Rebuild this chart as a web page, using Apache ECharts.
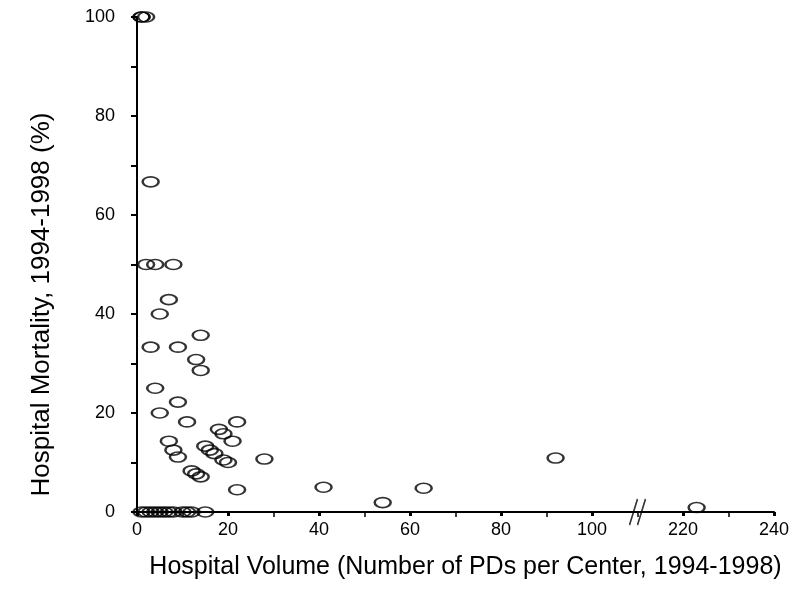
<!DOCTYPE html>
<html>
<head>
<meta charset="utf-8">
<script src="https://cdn.jsdelivr.net/npm/echarts@6/dist/echarts.min.js"></script>
<style>
  html, body { margin: 0; padding: 0; background: #fff; }
  #main { width: 803px; height: 609px; }
</style>
</head>
<body>
<div id="main"></div>
<script>
// hospital volume (PDs per center) and mortality (%)
var volumes = [1, 1, 2, 3, 2, 4, 8, 7, 5, 14, 3, 9, 13, 14, 4, 9, 5, 11, 22, 18, 19, 7, 21, 15, 8, 16, 17, 9, 28, 19, 20, 12, 13, 14, 22, 41, 54, 63, 92, 223,
               1, 2, 3, 4, 5, 6, 7, 8, 10, 11, 12, 15];
var mortality = [100, 100, 100, 66.7, 50, 50, 50, 42.9, 40, 35.7, 33.3, 33.3, 30.8, 28.6, 25, 22.2, 20, 18.2, 18.2, 16.7, 15.8, 14.3, 14.3, 13.3, 12.5, 12.5, 11.8, 11.1, 10.7, 10.5, 10, 8.3, 7.7, 7.1, 4.5, 5, 1.9, 4.8, 10.9, 0.9,
                 0, 0, 0, 0, 0, 0, 0, 0, 0, 0, 0, 0];
var xTicks = [0, 20, 40, 60, 80, 100, 220, 240];
var breakFrom = 110, breakTo = 210;

// collapse the broken part of the x axis
function mapX(v) { return v > breakFrom ? v - (breakTo - breakFrom) : v; }
function unmapX(v) { return v > breakFrom ? v + (breakTo - breakFrom) : v; }

var points = [];
for (var i = 0; i < volumes.length; i++) {
  points.push([mapX(volumes[i]), mortality[i]]);
}

var myChart = echarts.init(document.getElementById('main'));
var option = {
  animation: false,
  backgroundColor: '#fff',
  textStyle: { fontFamily: 'Liberation Sans, Arial, sans-serif', color: '#000' },
  grid: { left: 137, right: 29, top: 17, bottom: 97 },
  xAxis: {
    type: 'value',
    min: 0,
    max: mapX(240),
    interval: 20,
    name: 'Hospital Volume (Number of PDs per Center, 1994-1998)',
    nameLocation: 'middle',
    nameGap: 43,
    nameTextStyle: { fontSize: 25, color: '#000', padding: [0, 0, 0, 20] },
    axisLine: { show: true, lineStyle: { color: '#000', width: 2 } },
    axisTick: { show: true, length: 4, lineStyle: { color: '#000', width: 3 } },
    minorTick: { show: true, splitNumber: 2, length: 5, lineStyle: { color: '#000', width: 1.5 } },
    splitLine: { show: false },
    axisLabel: {
      fontSize: 18, color: '#000', margin: 9,
      formatter: function (v) {
        var real = unmapX(v);
        return xTicks.indexOf(real) >= 0 ? String(real) : '';
      }
    }
  },
  yAxis: {
    type: 'value',
    min: 0,
    max: 100,
    interval: 20,
    name: 'Hospital Mortality, 1994-1998 (%)',
    nameLocation: 'middle',
    nameGap: 82,
    nameTextStyle: { fontSize: 26, color: '#000', padding: [0, 80, 0, 0] },
    axisLine: { show: true, lineStyle: { color: '#000', width: 2 } },
    axisTick: { show: true, length: 6, lineStyle: { color: '#000', width: 2 } },
    minorTick: { show: true, splitNumber: 2, length: 6, lineStyle: { color: '#000', width: 2 } },
    splitLine: { show: false },
    axisLabel: { fontSize: 18, color: '#000', margin: 22 }
  },
  series: [
    {
      name: 'centers',
      type: 'scatter',
      symbol: 'circle',
      symbolSize: [16, 10],
      itemStyle: { color: 'rgba(0,0,0,0)', borderColor: '#000', borderWidth: 2 },
      data: points,
      z: 3
    },
    {
      // break marker on the x axis
      name: 'break',
      type: 'scatter',
      symbol: 'path://M0,26 L8,0 M8,26 L16,0',
      symbolSize: [16, 26],
      itemStyle: { color: 'rgba(0,0,0,0)', borderColor: '#000', borderWidth: 2 },
      data: [[breakFrom, 0]],
      silent: true,
      z: 4
    }
  ]
};
myChart.setOption(option);
</script>
</body>
</html>
